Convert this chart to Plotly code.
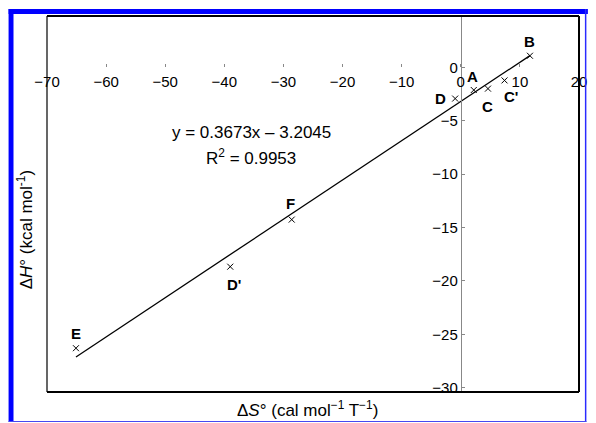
import plotly.graph_objects as go

# ---------------- data ----------------
point_labels = ["A", "B", "C", "C'", "D", "D'", "E", "F"]
delta_S = [2.2, 11.7, 4.6, 7.4, -0.95, -39.0, -65.1, -28.6]      # cal mol-1 T-1
delta_H = [-2.13, 1.08, -2.0, -1.23, -2.93, -18.67, -26.3, -14.26]  # kcal mol-1

fit_slope = 0.3673
fit_intercept = -3.2045
fit_x = [-65.1, 11.7]
fit_y = [fit_slope * v + fit_intercept for v in fit_x]

x_ticks = [-70, -60, -50, -40, -30, -20, -10, 0, 10, 20]
y_ticks = [-30, -25, -20, -15, -10, -5, 0]
x_range = [-70, 20]
y_range = [-30.4, 4.8]

# ---------------- layout geometry ----------------
W, H = 596, 423
L, R, T, B = 47, 9, 16, 31
PW = W - L - R
PH = H - T - B


def px(x):
    return (x - L) / PW


def py(y):
    return (H - B - y) / PH


# label offsets (pixels) relative to each marker
label_shift = {
    "A": (-1, 14), "B": (0, 14), "C": (0, -18), "C'": (6, -16),
    "D": (-15, 0), "D'": (4, -18), "E": (0, 15), "F": (-1, 16),
}

FONT = "Liberation Sans, Arial, Helvetica, sans-serif"

fig = go.Figure()

fig.add_trace(go.Scatter(
    x=fit_x, y=fit_y, mode="lines",
    line=dict(color="black", width=1.3),
    hoverinfo="skip", showlegend=False,
))
fig.add_trace(go.Scatter(
    x=delta_S, y=delta_H, mode="markers",
    marker=dict(symbol="x-thin", size=6, line=dict(color="black", width=1)),
    showlegend=False,
))

annotations = []
for lab, xv, yv in zip(point_labels, delta_S, delta_H):
    dx, dy = label_shift[lab]
    annotations.append(dict(
        x=xv, y=yv, xref="x", yref="y", text="<b>%s</b>" % lab,
        showarrow=False, xshift=dx, yshift=dy,
        xanchor="center", yanchor="middle",
        font=dict(family=FONT, size=15, color="black"),
    ))

annotations += [
    dict(x=px(255), y=py(132), xref="paper", yref="paper",
         text="y = 0.3673x – 3.2045", showarrow=False,
         xanchor="center", yanchor="middle",
         font=dict(family=FONT, size=17, color="black")),
    dict(x=px(254), y=py(157), xref="paper", yref="paper",
         text="R<sup>2</sup> = 0.9953", showarrow=False,
         xanchor="center", yanchor="middle",
         font=dict(family=FONT, size=17, color="black")),
    dict(x=px(311), y=py(409), xref="paper", yref="paper",
         text="Δ<i>S</i>° (cal mol<sup>−1</sup> T<sup>−1</sup>)", showarrow=False,
         xanchor="center", yanchor="middle",
         font=dict(family=FONT, size=17, color="black")),
    dict(x=px(25), y=py(230), xref="paper", yref="paper", textangle=-90,
         text="Δ<i>H</i>° (kcal mol<sup>-1</sup>)", showarrow=False,
         xanchor="center", yanchor="middle",
         font=dict(family=FONT, size=17, color="black")),
]

BLUE = "#0000ff"
frame_line = dict(color="black", width=2)
shapes = [
    # plot frame (left side thinner, as in the reference)
    dict(type="line", xref="paper", yref="paper", x0=0, x1=1, y0=1, y1=1, line=frame_line, layer="above"),
    dict(type="line", xref="paper", yref="paper", x0=0, x1=1, y0=0, y1=0, line=frame_line, layer="above"),
    dict(type="line", xref="paper", yref="paper", x0=1, x1=1, y0=0, y1=1, line=frame_line, layer="above"),
    dict(type="line", xref="paper", yref="paper", x0=0, x1=0, y0=0, y1=1,
         line=dict(color="black", width=1.2), layer="above"),
    # blue border
    dict(type="rect", xref="paper", yref="paper", x0=px(8), x1=px(596), y0=py(14), y1=py(9),
         fillcolor=BLUE, line=dict(width=0)),
    dict(type="rect", xref="paper", yref="paper", x0=px(8), x1=px(13), y0=py(422), y1=py(9),
         fillcolor=BLUE, line=dict(width=0)),
    dict(type="rect", xref="paper", yref="paper", x0=px(593), x1=px(594.5), y0=py(422), y1=py(9),
         fillcolor="#2a2aff", line=dict(width=0)),
    dict(type="rect", xref="paper", yref="paper", x0=px(8), x1=px(594.5), y0=py(422), y1=py(421),
         fillcolor="#4848f0", line=dict(width=0)),
]

fig.update_layout(
    width=W, height=H,
    margin=dict(l=L, r=R, t=T, b=B, pad=0),
    paper_bgcolor="white", plot_bgcolor="white",
    font=dict(family=FONT, size=14, color="black"),
    showlegend=False,
    annotations=annotations,
    shapes=shapes,
    xaxis=dict(
        range=x_range, anchor="free",
        position=(0 - y_range[0]) / (y_range[1] - y_range[0]),
        tickmode="array", tickvals=x_ticks,
        ticks="inside", ticklen=3, tickcolor="#888888", tickwidth=1,
        ticklabelstandoff=4,
        showline=False, showgrid=False, zeroline=False,
        tickfont=dict(family=FONT, size=15, color="black"),
    ),
    yaxis=dict(
        range=y_range, anchor="free",
        position=(0 - x_range[0]) / (x_range[1] - x_range[0]),
        tickmode="array", tickvals=y_ticks,
        ticks="inside", ticklen=3, tickcolor="#888888", tickwidth=1,
        showline=True, linecolor="#888888", linewidth=1,
        showgrid=False, zeroline=False,
        tickfont=dict(family=FONT, size=15, color="black"),
    ),
)

fig.write_html("out.html")
